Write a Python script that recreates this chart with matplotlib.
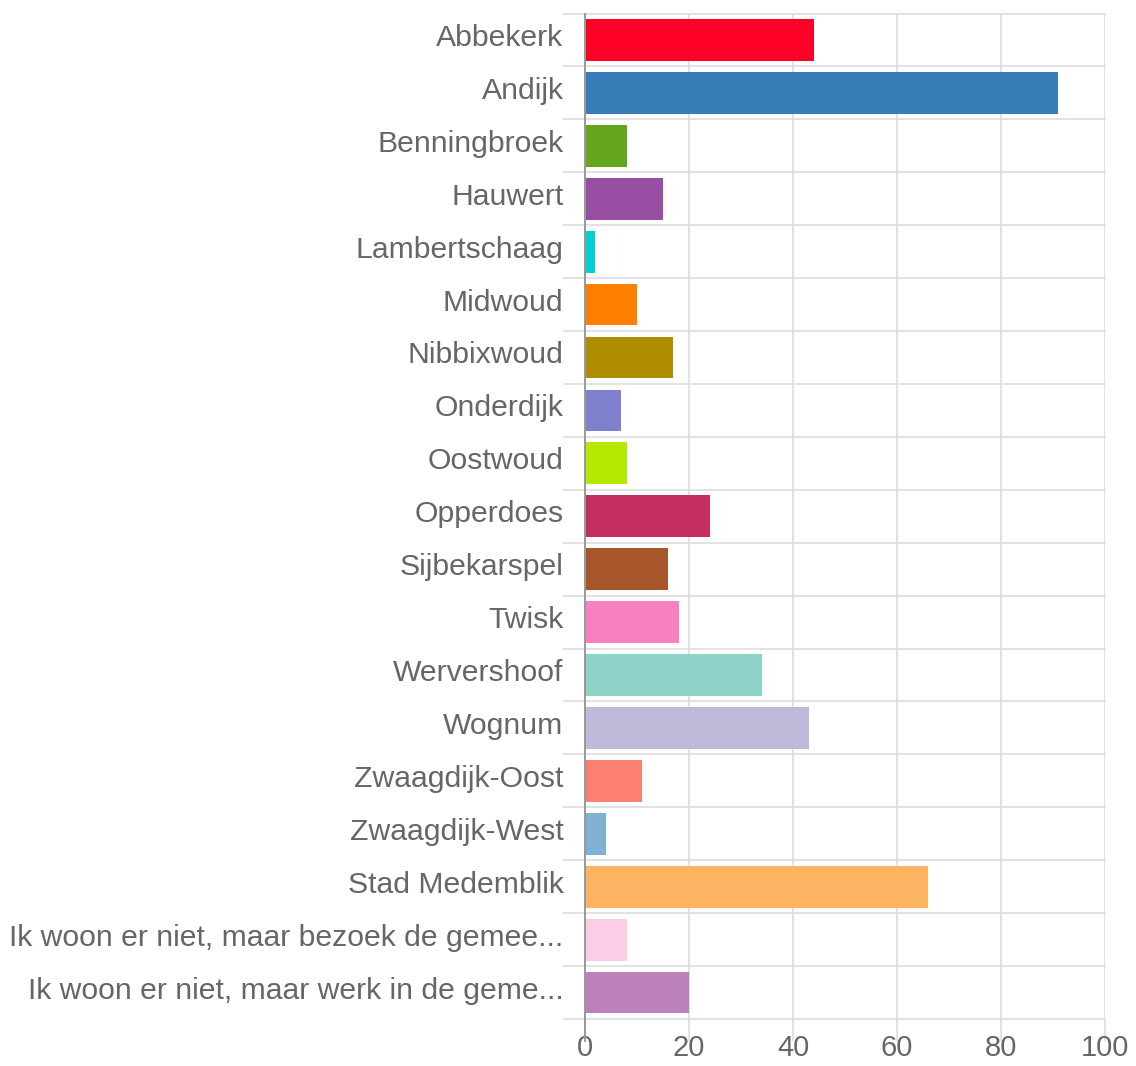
import matplotlib
matplotlib.use("Agg")
import matplotlib.pyplot as plt
import matplotlib.transforms as mtransforms

categories = ["Abbekerk", "Andijk", "Benningbroek", "Hauwert", "Lambertschaag",
              "Midwoud", "Nibbixwoud", "Onderdijk", "Oostwoud", "Opperdoes",
              "Sijbekarspel", "Twisk", "Wervershoof", "Wognum", "Zwaagdijk-Oost",
              "Zwaagdijk-West", "Stad Medemblik",
              "Ik woon er niet, maar bezoek de gemee...",
              "Ik woon er niet, maar werk in de geme..."]
values = [44, 91, 8, 15, 2, 10, 17, 7, 8, 24, 16, 18, 34, 43, 11, 4, 66, 8, 20]
colors = ["#FF0029", "#377EB8", "#66A61E", "#984EA3", "#00D2D5", "#FF7F00",
          "#AF8D00", "#7F80CD", "#B3E900", "#C42E60", "#A65628", "#F781BF",
          "#8DD3C7", "#BEBADA", "#FB8072", "#80B1D3", "#FDB462", "#FCCDE5",
          "#BC80BD"]
xticks = [0, 20, 40, 60, 80, 100]

plt.rcParams['font.family'] = ['Liberation Sans', 'DejaVu Sans']

W, H = 1136, 1066
fig = plt.figure(figsize=(W / 100, H / 100), dpi=100)
left, right, top, bottom = 585, 1105, 13.5, 1019
ax = fig.add_axes([left / W, 1 - bottom / H, (right - left) / W, (bottom - top) / H])

n = len(categories)
ypos = list(range(n))
ax.barh(ypos, values, height=0.79, color=colors, zorder=3)

ax.set_xlim(0, 100)
ax.set_ylim(n - 0.5, -0.5)

grid_c = "#DDDDDD"
for b in range(n + 1):
    ax.axhline(b - 0.5, color=grid_c, lw=1.2, zorder=1, clip_on=False)
ax.set_yticks(ypos)
ax.set_yticklabels(categories)
ax.set_yticks([b - 0.5 for b in range(n + 1)], minor=True)
ax.tick_params(axis='y', which='major', length=0, pad=15.5, labelsize=21.7, labelcolor="#666666")
ax.tick_params(axis='y', which='minor', length=16, color=grid_c, width=1.2)
off = mtransforms.ScaledTranslation(0, 5 / 100, fig.dpi_scale_trans)
for lab in ax.get_yticklabels():
    lab.set_transform(lab.get_transform() + off)

ax.set_xticks(xticks)
ax.set_xticklabels([str(t) for t in xticks])
ax.tick_params(axis='x', length=16, color=grid_c, width=1.2, labelsize=21,
               labelcolor="#666666", pad=-5)
ax.xaxis.grid(True, color=grid_c, lw=1.2, zorder=1)
ax.axvline(0, color="#999999", lw=1.4, zorder=4, ymin=-0.022, clip_on=False)
ax.set_axisbelow(True)

for s in ax.spines.values():
    s.set_visible(False)

fig.savefig("out.png", dpi=100)
